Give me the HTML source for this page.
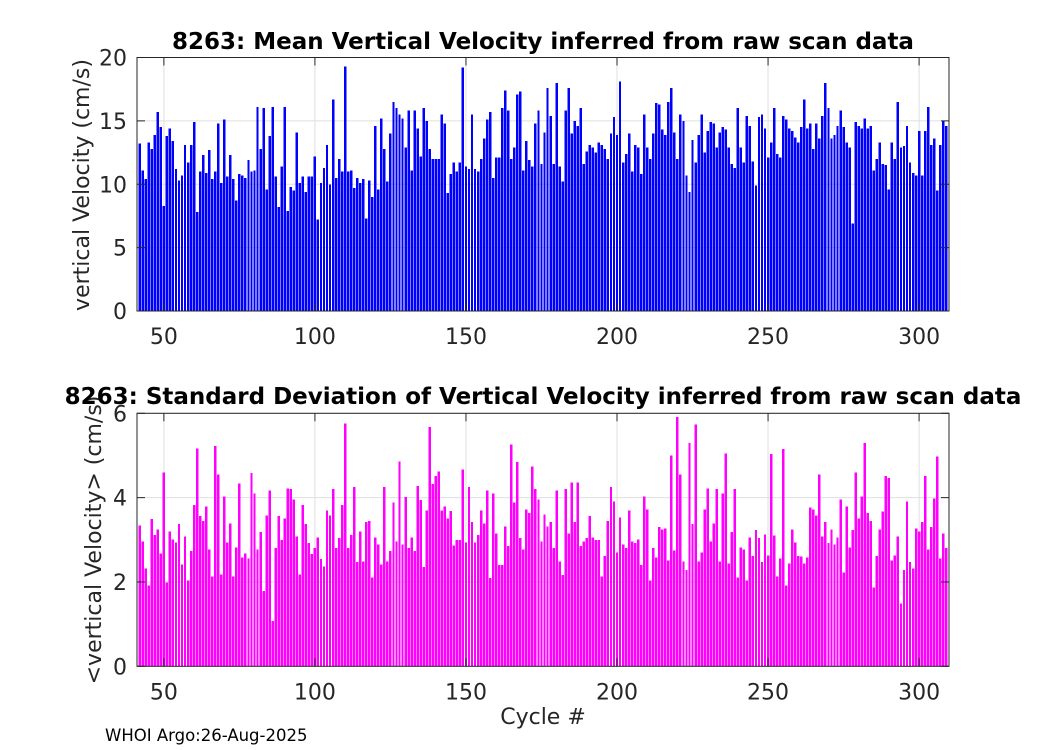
<!DOCTYPE html>
<html><head><meta charset="utf-8"><style>
html,body{margin:0;padding:0;background:#fff;}
svg{display:block;font-family:"DejaVu Sans","Liberation Sans",sans-serif;}
</style></head><body>
<svg id="chart" width="1050" height="750" viewBox="0 0 1050 750">
<rect x="0" y="0" width="1050" height="750" fill="#fff"/>
<g id="top"></g>
<g id="bot"></g>
<text x="543" y="49" text-anchor="middle" font-size="23" font-weight="bold" fill="#000">8263: Mean Vertical Velocity inferred from raw scan data</text>
<text transform="translate(89,185) rotate(-90)" text-anchor="middle" font-size="22" fill="#262626">vertical Velocity (cm/s)</text>
<text transform="translate(101,540) rotate(-90)" text-anchor="middle" font-size="22" fill="#262626">&lt;vertical Velocity&gt; (cm/s)</text>
<text x="543" y="404" text-anchor="middle" font-size="23" font-weight="bold" fill="#000">8263: Standard Deviation of Vertical Velocity inferred from raw scan data</text>
<text x="543" y="724" text-anchor="middle" font-size="22" fill="#262626">Cycle #</text>
<text x="105" y="741" font-size="16.5" fill="#000">WHOI Argo:26-Aug-2025</text>
</svg>
<script>
const meanValues = [13.2,11.1,10.4,13.3,12.8,13.9,15.7,14.5,8.3,13.8,14.4,13.4,11.2,10.3,10.7,13.1,11.7,13.1,14.9,7.8,11.0,12.3,10.9,12.7,10.4,11.0,14.8,10.1,15.1,10.6,12.3,10.4,8.7,10.8,10.7,10.5,11.9,11.0,11.1,16.1,12.8,16.0,9.6,13.8,16.1,10.6,8.2,11.4,16.1,7.9,9.8,9.5,14.1,10.1,10.6,9.4,10.6,10.6,12.2,7.2,10.1,11.3,13.1,10.0,16.7,10.5,12.0,11.0,19.3,11.0,11.1,9.7,10.5,10.1,10.4,7.3,10.3,9.0,14.6,9.6,15.2,12.8,10.2,14.0,16.5,16.0,15.5,15.2,12.9,
15.8,11.1,15.8,14.4,12.2,16.0,15.0,12.8,12.0,12.0,12.0,15.5,14.8,9.3,10.8,11.7,11.0,11.7,19.2,11.4,11.2,15.5,11.2,11.0,12.0,13.6,15.1,15.7,10.5,12.1,12.1,16.0,17.4,15.8,12.0,12.9,17.1,17.3,11.1,13.4,11.9,11.4,14.8,15.8,11.6,14.1,17.6,15.4,11.6,18.0,11.4,10.2,15.8,17.6,14.0,15.0,14.6,16.0,11.6,12.6,13.1,12.9,12.5,13.3,13.1,12.8,12.0,14.0,15.3,13.9,18.1,11.7,12.4,14.0,11.0,13.1,12.9,10.8,15.5,12.9,12.0,14.0,16.4,16.3,14.3,13.9,16.5,17.6,14.1,12.0,
15.5,15.0,10.7,9.4,13.5,11.7,13.9,15.5,12.5,14.2,14.9,14.8,12.9,14.1,14.5,14.3,12.9,11.6,11.3,16.0,12.9,11.7,15.4,14.6,11.8,9.9,15.3,15.5,14.4,12.1,13.3,16.0,12.4,12.1,15.4,15.1,14.4,14.2,13.7,13.3,14.5,16.7,14.4,14.8,12.8,14.8,13.6,15.4,18.0,16.0,13.6,13.9,14.6,15.8,14.5,13.3,12.9,6.9,14.9,14.6,14.4,15.2,14.4,14.6,11.1,12.0,13.3,11.6,11.5,9.6,13.3,12.0,16.5,12.9,13.0,14.6,11.7,10.9,10.7,14.2,10.7,14.2,16.1,13.1,13.6,9.5,13.1,15.0,14.6];
const stdValues = [3.34,2.96,2.32,1.92,3.49,3.11,3.25,2.68,4.60,1.99,3.20,3.01,2.94,3.37,2.42,3.08,2.04,2.73,3.82,5.17,3.56,3.44,3.79,2.77,2.13,5.22,4.55,2.18,4.03,2.94,3.39,2.13,2.82,4.34,2.58,2.68,2.56,4.58,4.10,2.77,3.18,1.78,3.58,4.17,1.07,2.80,3.56,2.99,3.51,4.22,4.20,3.96,3.08,2.18,3.82,3.37,2.92,2.66,2.80,3.06,2.54,2.37,3.70,3.58,4.20,2.80,3.04,3.82,5.76,2.80,3.11,4.25,2.47,3.20,2.49,3.42,3.44,2.11,3.06,2.89,2.42,4.25,2.49,2.73,3.89,2.96,4.86,2.89,4.01,
2.80,3.06,2.73,4.27,3.94,2.35,3.70,5.67,4.32,4.51,4.62,3.70,3.79,3.51,3.68,2.87,2.99,2.99,4.67,2.94,4.25,3.42,2.94,3.11,3.70,3.39,4.17,2.09,4.10,3.15,2.40,2.40,3.32,2.85,5.26,3.89,4.84,3.04,2.77,3.72,3.63,4.74,4.20,3.96,2.96,3.60,3.32,3.42,2.80,4.17,2.49,2.16,4.20,3.15,4.36,3.42,4.36,2.85,2.96,3.04,3.56,3.06,2.99,2.99,2.13,2.61,3.44,4.25,3.91,2.70,3.53,2.89,2.80,3.70,2.96,2.92,3.01,2.40,4.03,3.72,2.04,2.80,2.58,3.30,3.25,3.27,2.51,5.00,2.75,5.91,
4.55,2.49,2.28,5.29,3.37,5.74,2.49,2.70,3.72,4.22,2.96,3.39,4.20,2.49,4.10,5.05,2.44,3.18,4.20,2.11,2.82,2.77,2.04,3.06,2.61,3.23,3.04,2.47,3.13,2.63,5.03,3.10,2.13,2.56,5.15,1.92,2.44,3.25,2.94,2.61,2.60,2.44,2.58,3.77,3.72,3.58,4.55,3.08,3.42,2.92,3.25,2.89,3.06,3.96,2.23,3.79,2.82,3.23,4.60,3.51,4.03,5.29,3.63,3.44,1.87,2.61,3.25,3.67,4.51,4.46,2.51,2.63,3.08,1.49,2.28,3.91,2.47,2.32,3.27,3.20,3.42,4.51,2.77,3.30,3.98,4.98,2.56,3.15,2.80];
const firstCycle = 42;
const xTicks = [50,100,150,200,250,300];
const topYTicks = [0,5,10,15,20];
const botYTicks = [0,2,4,6];
const xMin = 41.1, xMax = 309.9;

const NS = "http://www.w3.org/2000/svg";
function mk(tag, attrs, parent){ const e=document.createElementNS(NS,tag); for(const k in attrs) e.setAttribute(k,attrs[k]); parent.appendChild(e); return e; }

function panel(g, values, color, top, bottom, yMax, yTicks, prefix){
  const L=137, R=949;
  const sx = v => L + (v - xMin) / (xMax - xMin) * (R - L);
  const sy = v => bottom - v / yMax * (bottom - top);
  xTicks.forEach(t=>{ const l=mk('line',{x1:sx(t),x2:sx(t),y1:top,y2:bottom,stroke:'#dfdfdf','stroke-width':1},g);
    
     });
  yTicks.forEach(t=>{ const l=mk('line',{x1:L,x2:R,y1:sy(t),y2:sy(t),stroke:'#dfdfdf','stroke-width':1},g);
    
     });
  const bw = 0.8 * (R - L) / (xMax - xMin);
  values.forEach((v,i)=>{ const c=firstCycle+i;
    const b=mk('rect',{x:sx(c)-bw/2,y:sy(v),width:bw,height:sy(0)-sy(v),fill:color,'shape-rendering':'crispEdges'},g);
    
     });
  const box=mk('rect',{x:L,y:top,width:R-L,height:bottom-top,fill:'none',stroke:'#262626','stroke-width':1},g);
  
  
  xTicks.forEach(t=>{
    mk('line',{x1:sx(t),x2:sx(t),y1:bottom,y2:bottom-8,stroke:'#262626'},g);
    mk('line',{x1:sx(t),x2:sx(t),y1:top,y2:top+8,stroke:'#262626'},g);
    const tx=mk('text',{x:sx(t),y:bottom+33,'text-anchor':'middle','font-size':22,fill:'#262626'},g);
    tx.textContent=t;
    
     });
  yTicks.forEach(t=>{
    mk('line',{x1:L,x2:L+8,y1:sy(t),y2:sy(t),stroke:'#262626'},g);
    mk('line',{x1:R,x2:R-8,y1:sy(t),y2:sy(t),stroke:'#262626'},g);
    const tx=mk('text',{x:L-10,y:sy(t)+8,'text-anchor':'end','font-size':22,fill:'#262626'},g);
    tx.textContent=t;
    
     });
}
panel(document.getElementById('top'), meanValues, '#0000ff', 57.5, 311, 20, topYTicks, 'mean');
panel(document.getElementById('bot'), stdValues, '#ff00ff', 413.3, 666.3, 6, botYTicks, 'std');
</script>
</body></html>
